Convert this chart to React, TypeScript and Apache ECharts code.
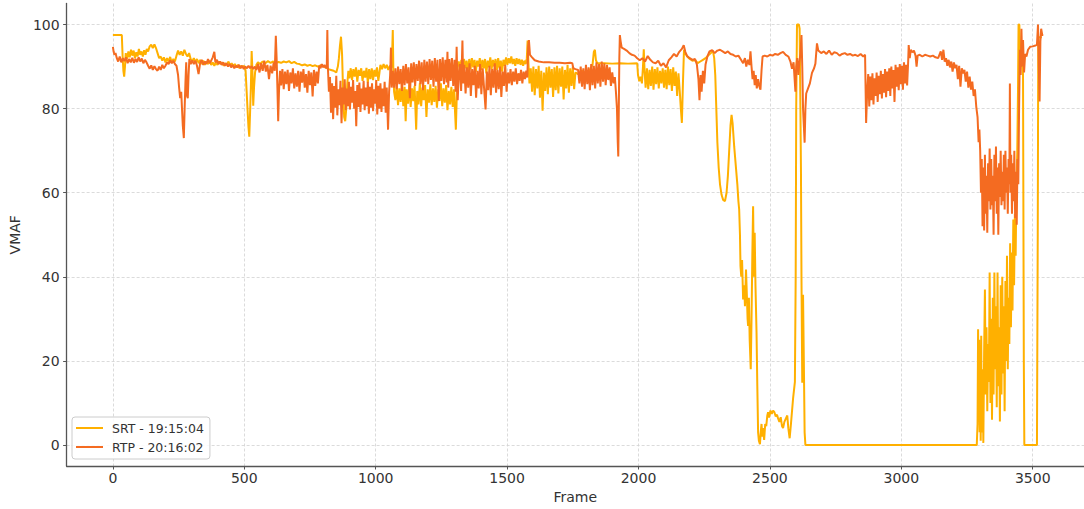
import React, { useEffect, useRef } from "react";
import * as echarts from "echarts";

const SERIES_NAMES = ["SRT - 19:15:04", "RTP - 20:16:02"];
const X_TICKS = [0, 500, 1000, 1500, 2000, 2500, 3000, 3500];
const Y_TICKS = [0, 20, 40, 60, 80, 100];
const X_LABEL = "Frame";
const Y_LABEL = "VMAF";

// SRT - 19:15:04 : [frame, VMAF]
const srtData: [number, number][] = [
  [0,97.5],[34,97.5],[37,92.5],[40,89],[43,87.6],[46,90],[49,93.2],[54,91.8],[59,93.6],[64,92.2],[69,94],[74,92.6],[79,93.8],[84,92],[89,93.4],[94,92.4],[99,94.2],[104,92.8],[109,93.6],[114,92.4],[119,93.9],[124,92.8],[129,94.2],[134,93.6],[140,94.8],[146,95.2],[152,94.4],[158,95.3],[164,94.4],[170,93.2],[176,92],[182,92.4],[188,91.4],[194,92.2],[200,91],[206,92],[212,91.2],[218,92.3],[224,90.9],[230,91.8],[236,91.2],[242,92.6],[248,93.8],[254,92.8],[260,93.6],[266,92.6],[272,94],[278,93],[284,92.4],[290,93.2],[296,91.8],
  [302,91.2],[308,92],[314,91],[320,91.8],[326,90.8],[332,91.6],[338,90.6],[344,91.4],[350,90.4],[356,91.2],[362,90.6],[368,91.4],[374,90.4],[380,91],[386,90.2],[392,91],[398,90.4],[404,91.2],[410,90.6],[416,91],[422,90.2],[428,90.8],[434,90.4],[440,91.2],[446,90.2],[452,90.8],[458,90],[464,90.6],[470,89.8],[476,90.4],[482,89.6],[488,90.2],[494,89.8],[500,90.2],[505,89],
  [509,84],[513,79],[516,75.5],[519,73.3],[522,79],[525,85],[528,93.7],[531,89],[534,80.7],[537,85],[541,88.6],[546,90.4],
  [552,91],[560,90.6],[570,91.2],[580,90.8],[590,91.3],[600,90.9],[610,91.2],[620,90.8],[630,91.1],[640,90.9],[650,91.2],[660,91],[670,91.3],[680,90.8],[690,91.1],[700,90.7],[710,90.6],[720,90.3],[730,90.5],[740,90.2],[750,90.4],[760,90.1],[770,90.3],[780,90],[790,90.3],[800,90.1],
  [810,89.8],[820,89.4],[830,89.2],[840,89],[850,88.6],[856,90],[860,92],[864,95],[868,97.1],[872,93],[876,84],[880,78],[884,77],[888,80],[892,86],[896,89],
  [900,87.2],[905,89.6],[910,86.8],[915,89.4],[920,87.6],[925,89.8],[930,86.4],[935,89.2],[940,87.8],[945,89.6],[950,86.6],[955,89],[960,87.4],[965,89.7],[970,86.2],[975,89.4],[980,87],[985,89.6],[990,86.8],[995,89.2],[1000,87.6],[1005,89.8],[1010,86.6],[1014,88.4],[1018,90.4],[1024,89.4],[1030,90.6],[1036,89.6],[1042,90.4],[1048,89.2],[1054,90.2],[1060,89.8],[1063,94],[1065,98.7],[1067,90],[1070,84],
  [1075,82],[1080,85.6],[1085,80.8],[1090,84.8],[1095,81.6],[1100,86],[1105,80.6],[1110,85.2],[1114,77],[1118,84.6],[1123,81.2],[1128,85.8],[1133,80.4],[1138,84.8],[1143,81.8],[1148,85.4],[1154,75],[1158,84.2],[1163,81],[1168,86],[1173,80.6],[1178,85],[1183,82],[1188,85.6],[1193,78],[1198,84.6],[1203,81.4],[1208,85.8],[1213,80.8],[1218,84.8],[1223,81.6],[1228,85.4],[1233,80.2],[1238,84.6],[1243,81.8],[1248,86],[1253,80.6],[1258,84.8],[1263,81.4],[1268,85.6],[1273,79.6],[1278,84.2],[1283,81],[1288,85.2],[1293,80.4],[1298,84.6],[1302,79],[1305,75],[1308,82],[1311,90],
  [1316,91.2],[1321,89.4],[1326,91.6],[1331,89],[1336,91.8],[1341,89.6],[1346,91.4],[1351,88.6],[1356,91.8],[1361,89.4],[1366,92],[1371,89.8],[1376,91.6],[1381,88.8],[1386,91.4],[1391,90],[1396,92],[1401,89.2],[1406,91.6],[1411,89.6],[1416,91.8],[1421,88.4],[1426,91.4],[1431,89.8],[1436,92.2],[1441,89.4],[1446,91.6],[1451,90],[1456,91.8],[1461,89.2],[1466,92],[1471,89.6],[1476,91.4],[1481,88.8],[1486,91.6],[1491,90.2],[1496,92.2],[1501,90.4],[1506,92],[1511,90.8],[1516,92.4],[1521,90.6],[1526,91.8],[1531,90.2],[1536,92],[1541,90.6],[1546,91.8],[1551,90.4],[1556,91.6],[1561,90.2],[1566,91.4],[1571,90.6],[1575,92],[1578,96.2],[1581,91],[1585,86],
  [1590,89.6],[1595,84],[1600,90],[1605,83.2],[1610,89.4],[1615,84.8],[1620,90.2],[1625,82.6],[1630,89],[1635,79.5],[1640,88.6],[1645,84.2],[1650,89.8],[1655,83.4],[1660,90],[1665,85],[1670,89.4],[1675,82.8],[1680,89.8],[1685,84.4],[1690,90.2],[1695,83.6],[1700,89.6],[1705,85.2],[1710,90],[1715,82.2],[1720,89.2],[1725,84.8],[1730,90.4],[1735,83.8],[1740,89.6],[1745,85.4],[1750,90],[1755,84.6],[1760,88.6],
  [1770,88.2],[1785,89],[1800,88.4],[1815,89.2],[1825,90.4],[1830,93.5],[1834,94],[1838,91.5],[1843,90.8],[1870,90.8],[1900,90.7],[1930,90.8],[1960,90.7],[1995,90.8],[1998,88],[2003,86.5],[2008,87.6],[2013,86],[2017,90],[2020,94.1],[2023,89],
  [2027,85],[2032,89.6],[2037,84.6],[2042,89.2],[2047,85.4],[2052,90],[2057,84.5],[2062,89.4],[2067,85.8],[2072,89.8],[2077,84.8],[2082,89],[2087,86],[2092,89.6],[2097,85],[2102,89.2],[2107,84.6],[2112,90],[2117,85.6],[2122,89.4],[2127,84.2],[2132,89.8],[2137,85.4],[2142,88.8],[2147,83],[2152,88.4],[2157,84],[2161,80],[2165,76.6],[2169,86],[2173,94],[2178,93.2],
  [2185,92.4],[2195,91.8],[2205,91.4],[2215,91.6],[2225,90.8],[2235,91.2],[2245,91.6],[2255,92],[2265,92.6],[2275,93.2],[2283,93.8],[2288,92],
  [2292,88],[2296,80],[2300,72],[2305,66],[2310,62],[2316,59.5],[2322,58.3],[2329,58],[2335,60],[2340,64],[2345,70],[2350,76],[2354,78.5],[2358,76.5],[2364,71],[2370,66.5],[2376,62],[2380,58],[2383,56],[2386,50],[2388,42.5],[2391,40],[2394,44],[2398,34.6],[2402,38],[2405,33],[2409,41.7],[2412,36],[2415,30],[2417,28.3],[2420,35],[2423,25],[2427,18],[2430,30],[2433,45],[2436,56.8],[2439,40],[2442,50.5],[2445,38],[2449,26.8],[2452,14],[2455,3],[2458,1],[2462,0.2],[2465,3],[2468,5],[2471,2],[2474,4],[2478,1.2],[2482,5],[2486,4.5],[2490,7],[2493,7.8],[2497,6.5],[2502,8.2],[2507,7.4],[2512,8.2],[2517,7.8],[2522,6.8],[2527,7.2],[2531,6.3],[2536,5.5],[2541,6.6],[2546,4.5],[2550,4],[2555,5.5],[2560,6.2],[2566,7],[2570,4],[2575,1.6],[2580,5],[2588,11],[2595,15],[2598,40],[2600,80],[2603,100],[2607,100],[2610,100],[2613,99],[2616,80],[2618,66],[2620,40],[2623,14.8],[2626,35.7],[2629,20],[2632,3],[2635,0],
  [3287,0],[3290,5],[3292,27.5],[3294,10],[3296,25],[3298,3],[3300,20],[3302,1],[3304,26],[3306,3],[3309,18],[3312,0.5],[3315,22],[3318,37],[3321,12],[3324,28],[3327,8],[3330,24],[3333,15],[3336,41],[3339,10],[3342,30],[3345,6],[3348,35],[3351,12],[3354,41],[3357,18],[3360,33],[3363,9],[3366,41],[3369,14],[3372,28],[3375,5.6],[3378,38],[3381,12],[3384,40],[3387,17],[3390,33],[3393,8],[3396,39],[3399,20],[3402,45],[3405,18],[3408,35],[3411,24],[3414,48],[3417,28],[3420,45.8],[3423,32],[3426,53.6],[3429,38],[3432,55],[3435,45],[3438,62],[3441,69.4],[3444,85],[3446,100],[3449,100],[3452,94],[3456,90],[3460,92],[3463,88],[3466,20],[3468,0],[3516,0],[3519,50],[3521,97],[3535,97]
];

// RTP - 20:16:02 : [frame, VMAF]
const rtpData: [number, number][] = [
  [0,94.7],[3,93.5],[6,92.8],[10,93.2],[15,92],[20,91.2],[26,92.4],[32,91],[38,92],[44,91.3],[50,92.2],[56,90.8],[62,91.8],[68,91],[74,92.1],[80,90.9],[86,91.8],[92,91.1],[98,92.2],[104,91.2],[110,91.9],[116,90.8],[122,91.6],[128,91],[134,90.2],[140,89.5],[146,90.3],[152,89.2],[158,90.1],[164,89.4],[170,89],[176,90],[182,89.2],[188,90.4],[194,89.6],[200,90.2],[206,91],[212,90.6],[218,91.5],[224,90.8],[230,91.4],[236,90.6],[242,90.2],[248,88],[252,85],[256,82.5],[260,84],[263,80],[266,76],[270,73],[273,80],[276,86],[279,91],[282,83],[285,82.5],[288,88],[291,91.8],[296,90.6],
  [302,91.5],[308,90.6],[314,91.4],[320,90.2],[326,88.2],[332,90.8],[338,91.6],[344,90.4],[350,91.2],[356,90.6],[362,91.8],[368,90.8],[374,91.4],[380,92.2],[386,93.5],[390,91],[396,91.6],[402,90.6],[408,91.2],[414,90.4],[420,91],[426,90.2],[432,90.8],[438,90],[444,90.6],[450,89.8],[456,90.4],[462,89.6],[468,90.2],[474,89.8],[480,90.4],[486,89.6],[492,90.2],[498,89.4],[504,90],[510,89.6],[516,90.2],[522,89.6],[528,90.1],[534,89.4],[540,90],
  [546,89.2],[552,90.6],[558,88.6],[564,90.8],[570,89],[576,91.4],[582,88.8],[588,90.4],[594,87],[600,90.2],[606,88.4],[612,91],[616,89],[620,97.3],[623,92],[626,85],[629,77],[632,84],[636,89],
  [640,85.5],[645,89.4],[650,84.6],[655,88.8],[660,85.8],[665,89.2],[670,84.2],[675,88.6],[680,86],[685,89.6],[690,84.8],[695,88.4],[700,85.2],[705,89],[710,84],[715,88.8],[720,86.2],[725,89.4],[730,85],[735,88.2],[740,83.8],[745,89],[750,85.6],[755,88.6],[760,82.9],[765,89.2],[770,85.4],[775,88.8],[780,86],[785,90.2],[790,89.6],[795,90.6],[800,89.8],[805,90.4],[810,89.6],[814,90.2],[816,98.7],[818,90],[822,84],
  [826,87.5],[830,79],[834,86],[838,77.5],[842,85.4],[846,80.2],[850,87.8],[854,78.4],[858,84.6],[862,80.8],[866,86.6],[870,76.5],[874,85],[878,81],[882,87],[886,79.6],[890,84.8],[894,80.6],[898,86.4],[902,79.8],[906,85.2],[910,81.4],[914,86.8],[918,80],[922,84.2],[926,75.8],[930,85.6],[934,80.4],[938,86.2],[942,79.2],[946,84.8],[950,81],[954,86.6],[958,79.6],[962,85],[966,80.6],[970,86.4],[974,78.8],[978,85.2],[982,80.2],[986,86],[990,79.4],[994,84.6],[998,81.2],[1002,86.8],[1006,78.6],[1010,85.4],[1014,80],[1018,86],[1022,79.2],[1026,84.8],[1030,80.6],[1034,86.4],[1038,79],[1042,85],[1047,75],[1051,84],[1055,88],[1058,94.5],[1061,85],
  [1065,89],[1070,85],[1075,89.6],[1080,84.6],[1085,90],[1090,85.8],[1095,89.4],[1100,84.2],[1105,90.2],[1110,85.6],[1115,90.6],[1120,86],[1125,89.8],[1130,82.5],[1135,90.8],[1140,86.2],[1145,91],[1150,85.4],[1155,90.6],[1160,86.6],[1165,91.4],[1170,85.8],[1175,91],[1180,84.4],[1185,91.6],[1190,86.4],[1195,91.2],[1200,85.8],[1205,91.8],[1210,86.8],[1215,91.4],[1220,85.2],[1225,92],[1230,86.4],[1235,91.6],[1240,81.8],[1245,91.8],[1250,86.6],[1255,92.2],[1260,85.8],[1265,91.6],[1270,86.2],[1273,93.5],[1276,85],[1280,91.8],[1285,86.6],[1290,92],[1295,85.4],[1300,91.6],[1304,84],[1308,94.7],[1312,82],[1316,88],
  [1320,90.6],[1325,84.2],[1330,96.2],[1333,86],[1337,90.4],[1342,83.6],[1347,89.8],[1352,85],[1357,90.8],[1362,83],[1367,89.4],[1372,85.6],[1377,90.2],[1382,82.6],[1387,89],[1392,84.8],[1397,90.6],[1402,83.4],[1407,89.6],[1412,85.2],[1418,79.8],[1423,88.8],[1428,84.4],[1433,90.2],[1438,83.2],[1443,89.4],[1448,85],[1453,90.8],[1458,83.8],[1463,89.2],[1468,84.6],[1473,90],[1478,82.8],[1483,88.8],[1488,85.4],[1493,90.4],[1498,84],[1503,88.6],[1508,86],[1513,89.4],[1518,85.6],[1523,88.8],[1528,86.4],[1533,89.6],[1538,85.8],[1543,88.4],[1548,86.6],[1553,89.2],[1558,86],[1563,88.8],[1568,87],[1573,89],[1577,87.4],[1580,94.7],[1583,96.3],[1587,92.8],[1595,92.2],[1605,91.5],[1620,91.2],[1640,91],[1660,91],[1680,90.9],[1700,90.9],[1720,90.8],[1740,90.9],[1748,90.8],[1752,89.6],[1760,89.4],[1770,89.2],
  [1775,86],[1780,90],[1785,85.2],[1790,89.6],[1795,84.6],[1800,90.4],[1805,85.8],[1810,89.8],[1815,84.4],[1820,90.6],[1825,85.6],[1830,90.2],[1835,84.8],[1840,91],[1845,86],[1850,90.6],[1855,85.2],[1860,91.2],[1865,86.4],[1870,90.8],[1875,85.6],[1880,90.4],[1885,86.8],[1890,89.8],[1895,85.4],[1900,88.6],[1905,86],[1910,87.5],[1914,84],[1918,80],[1921,72],[1923,68.6],[1925,80],[1927,92],[1929,97.5],
  [1932,96],[1936,94.5],[1945,94.2],[1955,93.8],[1965,93.2],[1975,92.8],[1985,92.6],[1995,92],[2005,91.5],[2015,92],[2025,91.2],[2035,92.5],[2045,91.6],[2055,91],[2065,90.8],[2075,91.4],[2085,90.2],[2095,90.8],[2105,89.8],[2115,91.5],[2125,92.2],[2135,93],[2145,92.4],[2155,93.5],[2165,94.2],[2172,95.1],[2178,93.5],[2185,92.5],[2195,92],[2205,91.6],[2215,91.8],[2222,90.5],[2228,87],[2232,82],[2236,88],[2240,84],[2245,89],[2250,86],[2255,90.5],[2262,92.4],[2270,93.6],[2280,93.9],[2290,93.2],
  [2300,93.8],[2310,94],[2320,93.6],[2330,93.2],[2340,93.6],[2350,93],[2360,92.8],[2370,92.4],[2380,92.6],[2390,91.6],[2398,90.8],[2405,92],[2410,90],[2416,91.6],[2422,90.4],[2426,93.6],[2430,90],[2434,87],[2438,89],[2442,85.6],[2446,88],[2450,84.8],[2455,87],[2460,85.2],[2464,84.5],[2468,89],[2472,92.4],[2480,92.6],[2490,92.4],[2500,92.8],[2510,92.6],[2520,93],[2530,92.8],[2540,93.2],[2550,93.5],[2560,92.8],[2570,92.4],[2578,91.2],[2584,89.5],[2590,91],[2594,87],[2597,84],[2600,90],[2604,92],[2608,88],[2612,91],[2616,93],[2620,97.5],[2623,90],[2626,80],[2629,76],[2632,71.9],[2635,80],[2638,83.6],[2645,84.8],[2652,86],[2660,88.5],[2668,89.6],[2673,90.7],[2679,95.5],[2684,93.8],[2695,93.2],[2705,93.6],[2715,93],[2725,93.8],[2735,92.8],[2745,93.4],[2755,93.2],[2765,92.6],[2775,93],[2785,93.2],[2795,92.8],[2805,93],[2815,92.6],[2825,92.8],[2835,92.5],[2845,93],[2855,92.4],[2862,92.8],[2866,76.6],
  [2870,84],[2874,88.2],[2878,80.5],[2882,87.6],[2886,82],[2890,88.4],[2894,81],[2898,87.2],[2902,83],[2906,88.6],[2910,81.6],[2914,87.8],[2918,83.4],[2922,89],[2926,82.4],[2930,88.2],[2934,83.8],[2938,89.4],[2942,82.7],[2946,88.8],[2950,84.2],[2954,89.6],[2958,83],[2962,90],[2966,84.8],[2970,89.2],[2974,81.6],[2978,90.4],[2982,85.2],[2986,89.8],[2990,84.4],[2994,90.6],[2998,85.8],[3002,90.2],[3006,84.5],[3010,91],[3014,86],[3018,90.4],[3022,85.5],[3026,91.2],[3028,95.1],[3032,92],[3036,94],[3042,93.4],[3048,93.8],[3054,92.6],[3058,90],[3062,92.6],[3070,92.8],[3080,92.4],[3090,92.8],[3100,92.6],[3110,92.4],[3120,92.6],[3130,92.2],[3140,92],[3150,93.6],[3155,91.6],[3160,94],[3165,91.2],[3170,92],[3175,90.2],[3180,91.6],[3185,89.8],[3190,91.2],[3195,88.8],[3200,91],[3205,89.6],[3210,90.4],[3215,87],[3220,90.2],[3225,85.2],[3230,89.6],[3235,88.4],[3240,89.2],[3245,86.4],[3250,88.8],[3255,85],[3260,87.6],[3265,84.5],[3270,86.4],[3275,83],[3280,84.6],[3285,80.5],[3290,78],[3294,72],[3297,75],
  [3300,70],[3303,60],[3306,68],[3309,52],[3312,66],[3315,51],[3318,69],[3321,55],[3324,64],[3327,50.5],[3330,67],[3333,58],[3336,70.5],[3339,56],[3342,68],[3345,57],[3348,64],[3351,50],[3354,69],[3357,58],[3360,71],[3363,55],[3366,66],[3369,50],[3372,67],[3375,59],[3378,70],[3381,57],[3384,65],[3387,58],[3390,69],[3393,56],[3396,70],[3399,60],[3402,66],[3405,55],[3408,68],[3411,62],[3413,86],[3415,60],[3418,69],[3421,55],[3424,67],[3427,58],[3430,70],[3433,54],[3436,65],[3439,52.4],[3442,68],[3445,62],[3448,80],[3451,94],[3454,88],[3457,99],[3460,90],[3463,96.3],[3467,88.6],[3471,93],[3476,92.4],[3482,94],[3490,94.7],[3500,94.8],[3510,95],[3516,95.2],[3520,100],[3523,90],[3526,81.7],[3529,96],[3532,99],[3536,97.5],[3540,97.5]
];

const FONT = "'DejaVu Sans', sans-serif";
const TEXT = "#333333";
const SPINE = "#555555";

export default function App() {
  const ref = useRef<HTMLDivElement>(null);
  useEffect(() => {
    if (!ref.current) return;
    const chart = echarts.init(ref.current, null, { renderer: "svg" });
    chart.setOption({
      animation: false,
      backgroundColor: "#ffffff",
      textStyle: { fontFamily: FONT },
      grid: { left: 66.3, right: -2, top: 3.5, bottom: 42, containLabel: false },
      legend: {
        orient: "vertical",
        left: 72,
        top: 417,
        data: SERIES_NAMES,
        icon: "rect",
        itemWidth: 27,
        itemHeight: 2,
        itemGap: 5,
        padding: [4, 6, 5, 4],
        backgroundColor: "rgba(255,255,255,0.85)",
        borderColor: "#cccccc",
        borderWidth: 1,
        borderRadius: 3,
        textStyle: { fontFamily: FONT, fontSize: 12.5, color: TEXT, lineHeight: 14, padding: [0, 0, 0, 4] },
      },
      xAxis: {
        type: "value",
        min: -176,
        max: 3695,
        name: X_LABEL,
        nameLocation: "middle",
        nameGap: 24,
        nameTextStyle: { fontFamily: FONT, fontSize: 14, color: TEXT },
        axisLine: { show: true, onZero: false, lineStyle: { color: SPINE, width: 1.3 } },
        axisTick: { show: true, length: 3.5, customValues: X_TICKS, lineStyle: { color: SPINE, width: 1 } },
        axisLabel: {
          customValues: X_TICKS,
          formatter: (v: number) => String(v),
          fontFamily: FONT,
          fontSize: 14,
          color: TEXT,
          margin: 5,
        },
        splitLine: { show: true, lineStyle: { color: "#d2d2d2", width: 0.8, type: [3, 2] } },
      },
      yAxis: {
        type: "value",
        min: -5,
        max: 105,
        name: Y_LABEL,
        nameLocation: "middle",
        nameGap: 42,
        nameRotate: 90,
        nameTextStyle: { fontFamily: FONT, fontSize: 14, color: TEXT },
        axisLine: { show: true, onZero: false, lineStyle: { color: SPINE, width: 1.3 } },
        axisTick: { show: true, length: 3.5, customValues: Y_TICKS, lineStyle: { color: SPINE, width: 1 } },
        axisLabel: { customValues: Y_TICKS, formatter: (v: number) => String(v), fontFamily: FONT, fontSize: 14, color: TEXT, margin: 7 },
        splitLine: { show: true, lineStyle: { color: "#d2d2d2", width: 0.8, type: [3, 2] } },
      },
      series: [
        {
          name: SERIES_NAMES[0],
          type: "line",
          data: srtData,
          showSymbol: false,
          symbol: "none",
          clip: true,
          lineStyle: { color: "#FFB000", width: 2 },
          itemStyle: { color: "#FFB000" },
        },
        {
          name: SERIES_NAMES[1],
          type: "line",
          data: rtpData,
          showSymbol: false,
          symbol: "none",
          clip: true,
          lineStyle: { color: "#F46B21", width: 2 },
          itemStyle: { color: "#F46B21" },
        },
      ],
    });
    return () => chart.dispose();
  }, []);
  return (
    <div
      ref={ref}
      style={{ position: "fixed", left: 0, top: 0, width: 1084, height: 509, background: "#fff" }}
    />
  );
}
